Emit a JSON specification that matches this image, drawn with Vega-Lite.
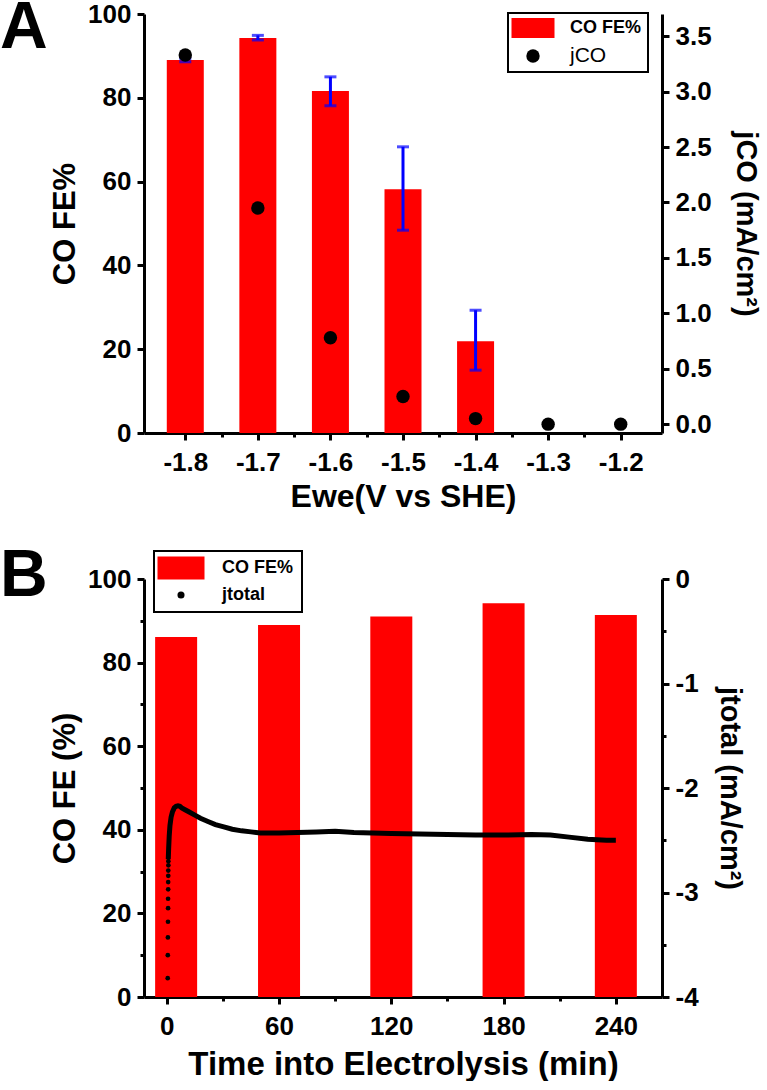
{
  "$schema": "https://vega.github.io/schema/vega-lite/v6.json",
  "background": "white",
  "padding": {"left": 0, "top": -5, "right": 0, "bottom": 0},
  "spacing": 31,
  "config": {
    "font": "Liberation Sans",
    "view": {"stroke": null},
    "axis": {
      "labelFont": "Liberation Sans", "labelFontWeight": "bold", "labelFontSize": 26, "labelColor": "black",
      "titleFont": "Liberation Sans", "titleFontWeight": "bold", "titleFontSize": 31, "titleColor": "black",
      "domainColor": "black", "domainWidth": 3, "tickColor": "black", "tickWidth": 3, "tickSize": 7,
      "labelPadding": 6, "titlePadding": 6, "grid": false, "labelOverlap": false, "labelFlush": false
    },
    "legend": {
      "labelFont": "Liberation Sans", "labelFontWeight": "bold", "labelFontSize": 18, "labelColor": "black",
      "strokeColor": "black", "strokeWidth": 2, "fillColor": "white", "title": null
    },
    "title": {"font": "Liberation Sans", "fontWeight": "bold", "color": "black", "fontSize": 66, "anchor": "start", "frame": "group"}
  },
  "datasets": {
    "feA": [
      {"E": -1.8, "FE": 89.0, "lo": 88.6, "hi": 89.4, "j": 3.33},
      {"E": -1.7, "FE": 94.3, "lo": 93.8, "hi": 94.9, "j": 1.95},
      {"E": -1.6, "FE": 81.6, "lo": 78.1, "hi": 85.0, "j": 0.78},
      {"E": -1.5, "FE": 58.2, "lo": 48.4, "hi": 68.3, "j": 0.25},
      {"E": -1.4, "FE": 21.9, "lo": 15.0, "hi": 29.3, "j": 0.05},
      {"E": -1.3, "FE": 0, "lo": null, "hi": null, "j": 0.0},
      {"E": -1.2, "FE": 0, "lo": null, "hi": null, "j": 0.0}
    ],
    "feB": [
      {"t": 5, "FE": 86.1},
      {"t": 60, "FE": 89.0},
      {"t": 120, "FE": 91.0},
      {"t": 180, "FE": 94.2},
      {"t": 240, "FE": 91.4}
    ],
    "jdots": [
      {"t": 0.5, "j": -3.82}, {"t": 0.55, "j": -3.6}, {"t": 0.6, "j": -3.43}, {"t": 0.65, "j": -3.28},
      {"t": 0.7, "j": -3.15}, {"t": 0.7, "j": -3.06}, {"t": 0.75, "j": -2.97}, {"t": 0.75, "j": -2.9},
      {"t": 0.8, "j": -2.84}, {"t": 0.8, "j": -2.79}, {"t": 0.85, "j": -2.74}, {"t": 0.85, "j": -2.7}
    ],
    "jline": [
      {"t": 0.8, "j": -2.68}, {"t": 1.0, "j": -2.58}, {"t": 1.3, "j": -2.46}, {"t": 1.7, "j": -2.36},
      {"t": 2.3, "j": -2.28}, {"t": 3, "j": -2.23}, {"t": 4, "j": -2.19}, {"t": 5, "j": -2.175},
      {"t": 6, "j": -2.17}, {"t": 7, "j": -2.175}, {"t": 8, "j": -2.19}, {"t": 10, "j": -2.21},
      {"t": 12, "j": -2.23}, {"t": 15, "j": -2.26}, {"t": 18, "j": -2.29}, {"t": 22, "j": -2.32},
      {"t": 26, "j": -2.35}, {"t": 30, "j": -2.37}, {"t": 35, "j": -2.395}, {"t": 40, "j": -2.41},
      {"t": 45, "j": -2.42}, {"t": 50, "j": -2.43}, {"t": 60, "j": -2.43}, {"t": 70, "j": -2.425},
      {"t": 80, "j": -2.42}, {"t": 90, "j": -2.415}, {"t": 100, "j": -2.425}, {"t": 110, "j": -2.43},
      {"t": 120, "j": -2.435}, {"t": 135, "j": -2.44}, {"t": 150, "j": -2.445}, {"t": 165, "j": -2.45},
      {"t": 180, "j": -2.45}, {"t": 195, "j": -2.445}, {"t": 205, "j": -2.45}, {"t": 215, "j": -2.47},
      {"t": 225, "j": -2.49}, {"t": 235, "j": -2.5}, {"t": 240, "j": -2.5}
    ]
  },
  "resolve": {"scale": {"color": "independent"}, "legend": {"color": "independent"}},
  "vconcat": [
    {
      "width": 518,
      "height": 419,
      "title": {"text": "A", "dx": -144, "dy": 61, "offset": 0},
      "layer": [
        {
          "layer": [
            {
              "data": {"name": "feA"},
              "mark": {"type": "bar", "size": 37, "color": "#ff0000"},
              "encoding": {
                "x": {"field": "E", "type": "quantitative",
                  "scale": {"domain": [-1.85, -1.15], "nice": false, "zero": false},
                  "axis": {"title": "Ewe(V vs SHE)", "titleFontSize": 32,
                    "values": [-1.8, -1.75, -1.7, -1.65, -1.6, -1.55, -1.5, -1.45, -1.4, -1.35, -1.3, -1.25, -1.2],
                    "labelExpr": "abs(datum.value*10 - round(datum.value*10)) < 0.01 ? '' + datum.value : ''",
                    "tickSize": {"condition": {"test": "abs(datum.value*10 - round(datum.value*10)) > 0.01", "value": 4}, "value": 7},
                    "labelPadding": 9}},
                "y": {"field": "FE", "type": "quantitative", "title": "CO FE%",
                  "scale": {"domain": [0, 100], "nice": false},
                  "axis": {"title": "CO FE%", "orient": "left", "values": [0, 20, 40, 60, 80, 100]}},
                "color": {"datum": "CO FE%", "type": "nominal",
                  "scale": {"domain": ["CO FE%", "jCO"], "range": ["#ff0000", "#000000"]},
                  "legend": {"orient": "none", "legendX": 364, "legendY": -1, "symbolSize": 400,
                    "symbolOffset": 10, "labelOffset": 28, "rowPadding": 7, "padding": 6,
                    "encode": {
                      "symbols": {"update": {
                        "shape": {"signal": "datum.value === 'CO FE%' ? 'M-1,-0.465H1V0.465H-1Z' : 'circle'"},
                        "size": {"signal": "datum.value === 'CO FE%' ? 1849 : 180"},
                        "strokeWidth": {"value": 0}}},
                      "labels": {"update": {
                        "fontWeight": {"signal": "datum.value === 'jCO' ? 'normal' : 'bold'"},
                        "fontSize": {"signal": "datum.value === 'jCO' ? 21 : 18"}}}
                    }}}
              }
            },
            {
              "data": {"name": "feA"},
              "transform": [{"filter": "datum.lo != null"}],
              "mark": {"type": "errorbar", "color": "#0000ff", "thickness": 3, "size": 12, "ticks": true},
              "encoding": {
                "x": {"field": "E", "type": "quantitative"},
                "y": {"field": "lo", "type": "quantitative", "title": "CO FE%"},
                "y2": {"field": "hi"}
              }
            }
          ]
        },
        {
          "data": {"name": "feA"},
          "mark": {"type": "point", "filled": true, "size": 180, "opacity": 1},
          "encoding": {
            "x": {"field": "E", "type": "quantitative"},
            "y": {"field": "j", "type": "quantitative",
              "scale": {"domain": [-0.08, 3.7], "nice": false, "zero": false},
              "axis": {"title": "jCO (mA/cm²)", "titleFontSize": 29, "titlePadding": 19, "orient": "right",
                "values": [0, 0.5, 1, 1.5, 2, 2.5, 3, 3.5], "format": ".1f"}},
            "color": {"datum": "jCO", "type": "nominal"}
          }
        }
      ],
      "resolve": {"scale": {"y": "independent"}}
    },
    {
      "width": 518,
      "height": 418,
      "title": {"text": "B", "dx": -144, "dy": 60, "offset": 0},
      "layer": [
        {
          "data": {"name": "feB"},
          "mark": {"type": "bar", "size": 42, "color": "#ff0000"},
          "encoding": {
            "x": {"field": "t", "type": "quantitative",
              "scale": {"domain": [-9.5, 262], "nice": false, "zero": false},
              "axis": {"title": "Time into Electrolysis (min)", "titleFontSize": 33, "titlePadding": 9,
                "values": [0, 30, 60, 90, 120, 150, 180, 210, 240],
                "labelExpr": "datum.value % 60 === 0 ? '' + datum.value : ''",
                "tickSize": {"condition": {"test": "datum.value % 60 !== 0", "value": 4}, "value": 7},
                "labelPadding": 9}},
            "y": {"field": "FE", "type": "quantitative",
              "scale": {"domain": [0, 100], "nice": false},
              "axis": {"title": "CO FE (%)", "orient": "left",
                "values": [0, 10, 20, 30, 40, 50, 60, 70, 80, 90, 100],
                "labelExpr": "datum.value % 20 === 0 ? '' + datum.value : ''",
                "tickSize": {"condition": {"test": "datum.value % 20 !== 0", "value": 4}, "value": 7}}},
            "color": {"datum": "CO FE%", "type": "nominal",
              "scale": {"domain": ["CO FE%", "jtotal"], "range": ["#ff0000", "#000000"]},
              "legend": {"orient": "none", "legendX": 10, "legendY": -28, "symbolSize": 529,
                "symbolOffset": 10, "labelOffset": 32, "rowPadding": 6, "padding": 8,
                "encode": {
                  "symbols": {"update": {
                    "shape": {"signal": "datum.value === 'CO FE%' ? 'M-1,-0.49H1V0.49H-1Z' : 'circle'"},
                    "size": {"signal": "datum.value === 'CO FE%' ? 2209 : 50"},
                    "strokeWidth": {"value": 0}}}
                }}}
          }
        },
        {
          "data": {"name": "jline"},
          "mark": {"type": "line", "color": "#000000", "strokeWidth": 5, "interpolate": "linear"},
          "encoding": {
            "x": {"field": "t", "type": "quantitative"},
            "y": {"field": "j", "type": "quantitative",
              "scale": {"domain": [-4, 0], "nice": false, "zero": false},
              "axis": {"title": "jtotal (mA/cm²)", "titleFontSize": 29, "titlePadding": 16, "orient": "right",
                "values": [-4, -3.5, -3, -2.5, -2, -1.5, -1, -0.5, 0],
                "labelExpr": "datum.value % 1 === 0 ? '' + datum.value : ''",
                "tickSize": {"condition": {"test": "datum.value % 1 !== 0", "value": 4}, "value": 7}}}
          }
        },
        {
          "data": {"name": "jdots"},
          "mark": {"type": "point", "filled": true, "size": 22, "opacity": 1},
          "encoding": {
            "x": {"field": "t", "type": "quantitative"},
            "y": {"field": "j", "type": "quantitative", "axis": null},
            "color": {"datum": "jtotal", "type": "nominal"}
          }
        }
      ],
      "resolve": {"scale": {"y": "independent"}}
    }
  ]
}
